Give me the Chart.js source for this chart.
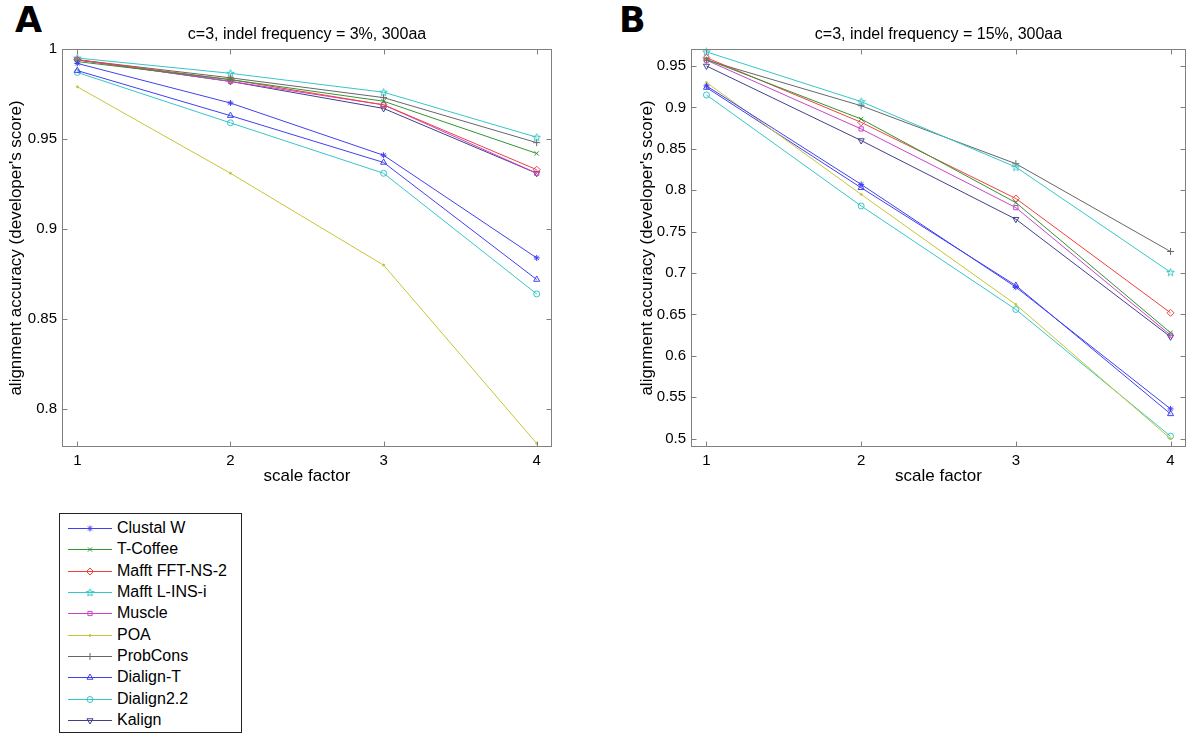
<!DOCTYPE html>
<html>
<head>
<meta charset="utf-8">
<script src="https://cdn.jsdelivr.net/npm/chart.js@4/dist/chart.umd.min.js"></script>
<style>
  html, body { margin:0; padding:0; background:#fff; overflow:hidden; width:1200px; height:739px; }
  #wrap { position:relative; width:1200px; height:739px; }
  canvas { position:absolute; }
  .panel { position:absolute; font-family:"DejaVu Sans", sans-serif; font-weight:bold; font-size:35px; line-height:35px; color:#000; }
  #legend { position:absolute; left:59px; top:513px; width:181px; height:218px; border:1px solid #222; background:#fff; font-family:"Liberation Sans", Arial, sans-serif; font-size:16px; color:#000; }
  .lrow { position:absolute; left:0; height:20px; width:181px; }
  .lrow .ln { position:absolute; left:8px; top:10px; width:44px; height:1px; }
  .lrow canvas { position:absolute; left:8px; top:0; }
  .lrow span { position:absolute; left:57px; top:1px; line-height:18px; white-space:nowrap; }
</style>
</head>
<body>
<div id="wrap">
  <div class="panel" style="left:15px; top:3px;">A</div>
  <div class="panel" style="left:619px; top:3px;">B</div>
  <canvas id="chartA" width="614" height="487" style="left:0px; top:0px;"></canvas>
  <canvas id="chartB" width="635" height="487" style="left:621px; top:0px;"></canvas>
  <div id="legend"></div>
</div>
<script>
// ---------- data ----------
const xValues = [1, 2, 3, 4];
const xTicks = [1, 2, 3, 4];
const seriesNames = ['Clustal W', 'T-Coffee', 'Mafft FFT-NS-2', 'Mafft L-INS-i', 'Muscle', 'POA', 'ProbCons', 'Dialign-T', 'Dialign2.2', 'Kalign'];

const titleA = 'c=3, indel frequency = 3%, 300aa';
const titleB = 'c=3, indel frequency = 15%, 300aa';
const xTitle = 'scale factor';
const yTitle = "alignment accuracy (developer's score)";

const yTicksA = [0.8, 0.85, 0.9, 0.95, 1];
const yTickLabelsA = ['0.8', '0.85', '0.9', '0.95', '1'];
const yTicksB = [0.5, 0.55, 0.6, 0.65, 0.7, 0.75, 0.8, 0.85, 0.9, 0.95];
const yTickLabelsB = ['0.5', '0.55', '0.6', '0.65', '0.7', '0.75', '0.8', '0.85', '0.9', '0.95'];

// Panel A (indel frequency 3%)
const clustalA   = [0.992, 0.970, 0.941, 0.884];
const tcoffeeA   = [0.993, 0.983, 0.971, 0.942];
const mafftFftA  = [0.994, 0.983, 0.969, 0.933];
const mafftLinsA = [0.995, 0.9865, 0.976, 0.951];
const muscleA    = [0.994, 0.982, 0.969, 0.931];
const poaA       = [0.979, 0.931, 0.880, 0.781];
const probconsA  = [0.994, 0.984, 0.973, 0.948];
const dialignTA  = [0.988, 0.963, 0.937, 0.872];
const dialign22A = [0.987, 0.959, 0.931, 0.864];
const kalignA    = [0.994, 0.982, 0.967, 0.931];

// Panel B (indel frequency 15%)
const clustalB   = [0.926, 0.807, 0.683, 0.536];
const tcoffeeB   = [0.958, 0.886, 0.785, 0.628];
const mafftFftB  = [0.960, 0.882, 0.790, 0.652];
const mafftLinsB = [0.967, 0.907, 0.828, 0.701];
const muscleB    = [0.957, 0.874, 0.779, 0.625];
const poaB       = [0.930, 0.795, 0.662, 0.500];
const probconsB  = [0.957, 0.902, 0.832, 0.726];
const dialignTB  = [0.924, 0.803, 0.685, 0.530];
const dialign22B = [0.915, 0.781, 0.656, 0.503];
const kalignB    = [0.950, 0.860, 0.765, 0.623];

const seriesA = [clustalA, tcoffeeA, mafftFftA, mafftLinsA, muscleA, poaA, probconsA, dialignTA, dialign22A, kalignA];
const seriesB = [clustalB, tcoffeeB, mafftFftB, mafftLinsB, muscleB, poaB, probconsB, dialignTB, dialign22B, kalignB];

// ---------- styles ----------
const FONT = '"Liberation Sans", Arial, sans-serif';
Chart.defaults.font.family = FONT;

const colors = ['#4040f0', '#339433', '#f04040', '#36c6c6', '#c844c8', '#c6c636', '#666666', '#4040f0', '#36c6c6', '#40408c'];

function makePentagram(color) {
  const c = document.createElement('canvas');
  c.width = 9; c.height = 9;
  const g = c.getContext('2d');
  g.strokeStyle = color; g.lineWidth = 1;
  g.beginPath();
  for (let i = 0; i < 10; i++) {
    const r = (i % 2 === 0) ? 4.0 : 1.7;
    const a = -Math.PI / 2 + i * Math.PI / 5;
    const px = 4.5 + r * Math.cos(a), py = 4.8 + r * Math.sin(a);
    if (i === 0) g.moveTo(px, py); else g.lineTo(px, py);
  }
  g.closePath(); g.stroke();
  return c;
}

const pointStyles = ['star', 'crossRot', 'rectRot', makePentagram(colors[3]), 'rect', 'circle', 'cross', 'triangle', 'circle', 'triangle'];
const pointRadii  = [3, 3, 3.5, 4, 3, 1, 3.5, 3.5, 3, 3.5];
const pointRots   = [0, 0, 0, 0, 0, 0, 0, 0, 0, 180];

function buildDatasets(series) {
  return series.map((vals, i) => ({
    label: seriesNames[i],
    data: xValues.map((x, j) => ({ x: x, y: vals[j] })),
    borderColor: colors[i],
    backgroundColor: i === 5 ? colors[i] : 'rgba(0,0,0,0)',
    borderWidth: 1,
    pointStyle: pointStyles[i],
    pointRadius: pointRadii[i],
    pointRotation: pointRots[i],
    pointBorderColor: colors[i],
    pointBackgroundColor: i === 5 ? colors[i] : 'rgba(0,0,0,0)',
    pointBorderWidth: 1,
    tension: 0,
    clip: false
  }));
}

const framePlugin = {
  id: 'frame',
  afterDraw(chart) {
    const { ctx, chartArea: a, scales } = chart;
    ctx.save();
    ctx.strokeStyle = '#808080';
    ctx.lineWidth = 1;
    const L = Math.round(a.left) + 0.5, R = Math.round(a.right) - 0.5;
    const T = Math.round(a.top) + 0.5, B = Math.round(a.bottom) - 0.5;
    ctx.strokeRect(L, T, R - L, B - T);
    const tl = 5;
    ctx.beginPath();
    scales.x.ticks.forEach(t => {
      const px = Math.round(scales.x.getPixelForValue(t.value)) + 0.5;
      ctx.moveTo(px, B); ctx.lineTo(px, B - tl);
      ctx.moveTo(px, T); ctx.lineTo(px, T + tl);
    });
    scales.y.ticks.forEach(t => {
      const py = Math.round(scales.y.getPixelForValue(t.value)) + 0.5;
      ctx.moveTo(L, py); ctx.lineTo(L + tl, py);
      ctx.moveTo(R, py); ctx.lineTo(R - tl, py);
    });
    ctx.stroke();
    ctx.restore();
  }
};

function makeChart(id, title, series, yMin, yMax, yTicks, yLabels, yAxisWidth, yTitlePad) {
  return new Chart(document.getElementById(id), {
    type: 'line',
    data: { datasets: buildDatasets(series) },
    options: {
      responsive: false, animation: false, devicePixelRatio: 1,
      events: [],
      layout: { padding: 0 },
      plugins: {
        legend: { display: false },
        tooltip: { enabled: false },
        title: { display: true, text: title, color: '#000', font: { size: 16, lineHeight: 1, weight: 'normal' }, padding: { top: 27, bottom: 6 } }
      },
      scales: {
        x: {
          type: 'linear', min: 0.9, max: 4.1,
          afterBuildTicks: s => { s.ticks = xTicks.map(v => ({ value: v })); },
          ticks: { color: '#000', font: { size: 15, lineHeight: 1 }, padding: 6, callback: (v) => String(v), maxRotation: 0 },
          grid: { display: false, drawTicks: false },
          border: { display: false },
          title: { display: true, text: xTitle, color: '#000', font: { size: 17, lineHeight: 1 }, padding: { top: 0, bottom: 2 } },
          afterFit: s => { s.height = 40; }
        },
        y: {
          type: 'linear', min: yMin, max: yMax,
          afterBuildTicks: s => { s.ticks = yTicks.map(v => ({ value: v })); },
          ticks: { color: '#000', font: { size: 15, lineHeight: 1 }, padding: 5, callback: (v, i) => yLabels[i] },
          grid: { display: false, drawTicks: false },
          border: { display: false },
          title: { display: true, text: yTitle, color: '#000', font: { size: 17, lineHeight: 1.2 }, padding: { top: yTitlePad, bottom: 0 } },
          afterFit: s => { s.width = yAxisWidth; }
        },
        y2: {
          type: 'linear', axis: 'y', position: 'right', display: true, min: yMin, max: yMax,
          ticks: { display: false },
          grid: { display: false, drawTicks: false },
          border: { display: false },
          afterFit: s => { s.width = yAxisWidth; }
        }
      }
    },
    plugins: [framePlugin]
  });
}

makeChart('chartA', titleA, seriesA, 0.779, 1.0, yTicksA, yTickLabelsA, 62, 6);
makeChart('chartB', titleB, seriesB, 0.49, 0.9705, yTicksB, yTickLabelsB, 70, 16);

// ---------- legend ----------
const legend = document.getElementById('legend');
seriesNames.forEach((name, i) => {
  const row = document.createElement('div');
  row.className = 'lrow';
  row.style.top = (4 + i * 21.33) + 'px';
  const ln = document.createElement('div');
  ln.className = 'ln';
  ln.style.background = colors[i];
  row.appendChild(ln);
  const c = document.createElement('canvas');
  c.width = 45; c.height = 20;
  const g = c.getContext('2d');
  g.strokeStyle = colors[i]; g.lineWidth = 1;
  const st = pointStyles[i];
  if (st instanceof HTMLCanvasElement) {
    g.fillStyle = '#fff';
    g.drawImage(st, 22 - st.width / 2, 10.5 - st.height / 2);
  } else {
    g.fillStyle = i === 5 ? colors[i] : 'rgba(0,0,0,0)';
    Chart.helpers.drawPoint(g, { pointStyle: st, radius: pointRadii[i], rotation: pointRots[i], borderWidth: 1 }, 22, 10.5);
  }
  row.appendChild(c);
  const s = document.createElement('span');
  s.textContent = name;
  row.appendChild(s);
  legend.appendChild(row);
});
</script>
</body>
</html>
